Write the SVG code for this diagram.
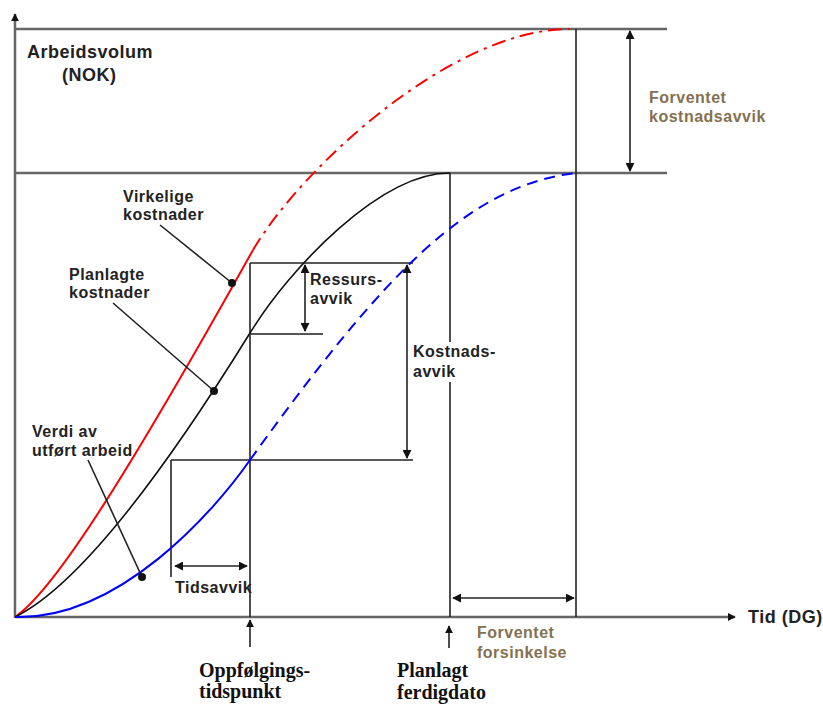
<svg xmlns="http://www.w3.org/2000/svg" width="823" height="706" viewBox="0 0 823 706">
  <style>
    .axis { stroke: #666; stroke-width: 2.5; fill: none; }
    .ln { stroke: #222; stroke-width: 1.6; fill: none; }
    .grid { stroke: #555; stroke-width: 2; fill: none; }
    .lbl { font-family: "Liberation Sans", Arial, sans-serif; font-weight: bold; font-size: 16px; letter-spacing: 0.5px; fill: #222; }
    .big { font-size: 18px; }
    .brown { fill: #85704f; }
    .ser { font-family: "Liberation Serif", "Times New Roman", serif; font-weight: bold; font-size: 20px; fill: #111; }
  </style>
  <defs>
    <marker id="ah" viewBox="0 0 10 10" refX="9" refY="5" markerWidth="9" markerHeight="9" markerUnits="userSpaceOnUse" orient="auto-start-reverse">
      <path d="M0,0 L10,5 L0,10 z" fill="#111"/>
    </marker>
    <marker id="ahs" viewBox="0 0 10 10" refX="9" refY="5" markerWidth="8" markerHeight="8" markerUnits="userSpaceOnUse" orient="auto">
      <path d="M0,0 L10,5 L0,10 z" fill="#111"/>
    </marker>
  </defs>
  <rect width="823" height="706" fill="#fff"/>

  <!-- axes and level lines -->
  <g id="axes">
    <line class="axis" x1="15" y1="618" x2="15" y2="14" marker-end="url(#ahs)"/>
    <line class="axis" x1="15" y1="617" x2="735" y2="617" marker-end="url(#ahs)"/>
    <line class="axis" x1="15" y1="29" x2="667" y2="29"/>
    <line class="axis" x1="15" y1="173" x2="667" y2="173"/>
  </g>

  <!-- reference lines -->
  <g id="guides">
    <line class="ln" x1="576" y1="29" x2="576" y2="617"/>
    <line class="ln" x1="450" y1="173" x2="450" y2="617"/>
    <line class="ln" x1="250" y1="263" x2="250" y2="617"/>
    <line class="ln" x1="250" y1="263" x2="413" y2="263"/>
    <line class="grid" x1="250" y1="334" x2="323" y2="334"/>
    <line class="ln" x1="171" y1="460" x2="413" y2="460"/>
    <line class="ln" x1="171" y1="460" x2="171" y2="577"/>
  </g>

  <!-- curves -->
  <g id="curves">
    <path d="M15,617 C55,590 130,470 253,250" stroke="#ff0000" stroke-width="2" fill="none"/>
    <path d="M253,250 C300,170 450,29 570,29" stroke="#ff0000" stroke-width="2" fill="none" stroke-dasharray="14 6 3 6"/>
    <path d="M15,617 C90,580 190,430 250,333 C290,268 380,173 450,173" stroke="#111" stroke-width="1.6" fill="none"/>
    <path d="M15,617 C120,620 215,510 250,460" stroke="#0000ff" stroke-width="2" fill="none"/>
    <path d="M250,460 C385,272 470,185 576,173" stroke="#0000ff" stroke-width="2" fill="none" stroke-dasharray="11 7"/>
  </g>

  <!-- connectors: dimension arrows and leaders -->
  <g id="connectors">
    <line class="ln" x1="630" y1="31" x2="630" y2="171" marker-start="url(#ah)" marker-end="url(#ah)"/>
    <line class="ln" x1="305" y1="265" x2="305" y2="331" marker-start="url(#ah)" marker-end="url(#ah)"/>
    <line class="ln" x1="407" y1="265" x2="407" y2="458" marker-start="url(#ah)" marker-end="url(#ah)"/>
    <line class="ln" x1="175" y1="566" x2="247" y2="566" marker-start="url(#ah)" marker-end="url(#ah)"/>
    <line class="ln" x1="453" y1="598" x2="574" y2="598" marker-start="url(#ah)" marker-end="url(#ah)"/>
    <line class="ln" x1="250" y1="647" x2="250" y2="620" marker-end="url(#ahs)"/>
    <line class="ln" x1="449" y1="648" x2="449" y2="626" marker-end="url(#ahs)"/>
    <line class="ln" x1="160" y1="225" x2="232" y2="283"/>
    <line class="ln" x1="113" y1="303" x2="214" y2="391"/>
    <line class="ln" x1="88" y1="460" x2="142" y2="577"/>
    <circle cx="232" cy="283" r="4" fill="#111"/>
    <circle cx="214" cy="391" r="4" fill="#111"/>
    <circle cx="142" cy="577" r="4" fill="#111"/>
  </g>

  <!-- labels -->
  <g id="label-volume">
    <text class="lbl big" x="27" y="58">Arbeidsvolum</text>
    <text class="lbl big" x="62" y="81">(NOK)</text>
  </g>
  <g id="label-actual">
    <text class="lbl" x="123" y="202">Virkelige</text>
    <text class="lbl" x="123" y="220">kostnader</text>
  </g>
  <g id="label-planned">
    <text class="lbl" x="69" y="280">Planlagte</text>
    <text class="lbl" x="69" y="298">kostnader</text>
  </g>
  <g id="label-earned">
    <text class="lbl" x="32" y="437">Verdi av</text>
    <text class="lbl" x="32" y="456">utført arbeid</text>
  </g>
  <g id="label-resource">
    <text class="lbl" x="310" y="285">Ressurs-</text>
    <text class="lbl" x="310" y="304">avvik</text>
  </g>
  <g id="label-cost">
    <rect x="412" y="342" width="86" height="40" fill="#fff"/>
    <text class="lbl" x="413" y="357">Kostnads-</text>
    <text class="lbl" x="413" y="377">avvik</text>
  </g>
  <g id="label-time">
    <text class="lbl" x="175" y="593">Tidsavvik</text>
  </g>
  <g id="label-expected-cost">
    <text class="lbl brown" x="649" y="103">Forventet</text>
    <text class="lbl brown" x="649" y="122">kostnadsavvik</text>
  </g>
  <g id="label-expected-delay">
    <text class="lbl brown" x="477" y="638">Forventet</text>
    <text class="lbl brown" x="477" y="658">forsinkelse</text>
  </g>
  <g id="label-followup">
    <text class="ser" x="199" y="677">Oppfølgings-</text>
    <text class="ser" x="199" y="698">tidspunkt</text>
  </g>
  <g id="label-planned-date">
    <text class="ser" x="397" y="677">Planlagt</text>
    <text class="ser" x="397" y="699">ferdigdato</text>
  </g>
  <g id="label-time-axis">
    <text class="lbl big" x="748" y="623">Tid (DG)</text>
  </g>
</svg>
